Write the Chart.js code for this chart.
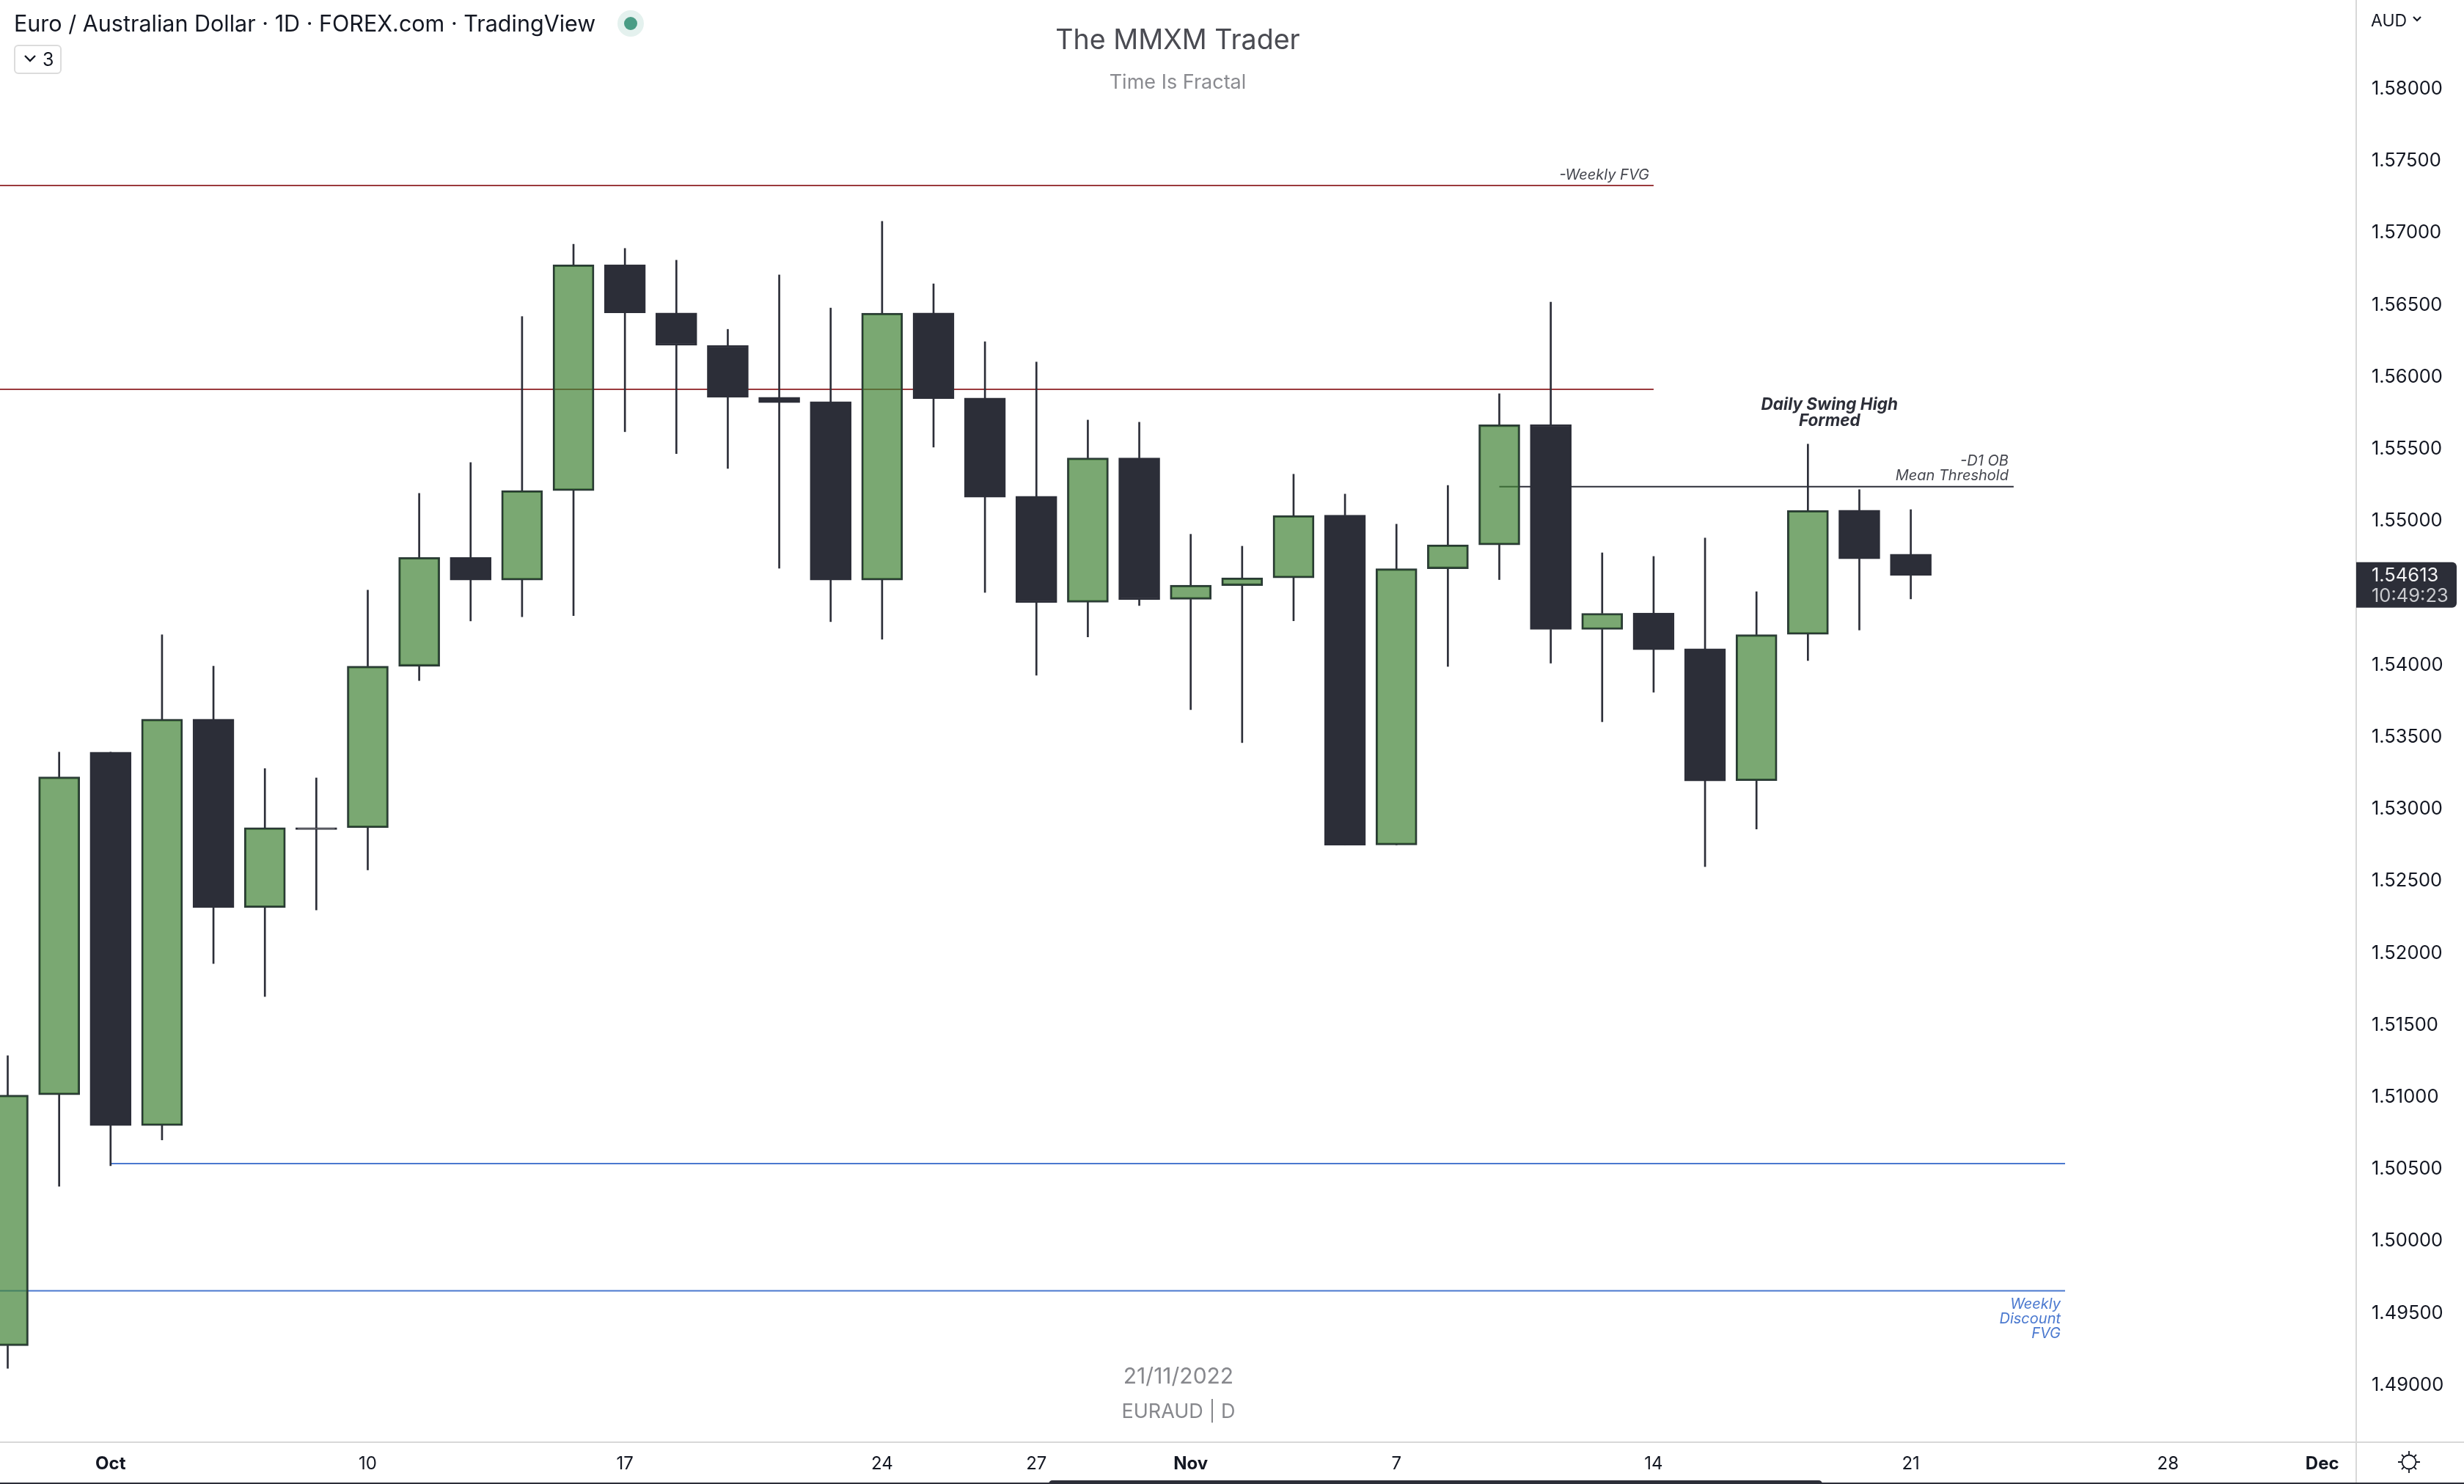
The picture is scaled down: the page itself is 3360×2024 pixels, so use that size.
<!DOCTYPE html>
<html>
<head>
<meta charset="utf-8">
<title>EURAUD 1D</title>
<script src="https://cdn.jsdelivr.net/npm/chart.js@4"></script>
<style>
  html, body { margin: 0; padding: 0; background: #fff; overflow: hidden; }
  body { width: 3360px; height: 2024px; position: relative; font-family: Inter, "Noto Sans", sans-serif; }
  canvas { position: absolute; left: 0; top: 0; }
  .txt { position: absolute; white-space: nowrap; line-height: 1; }
  .center { transform: translateX(-50%); }
  #header { left: 19px; top: 17px; font-size: 30.5px; color: #131722; }
  #dotOuter { position: absolute; left: 842px; top: 14px; width: 36px; height: 36px; border-radius: 50%; background: #e4f1ee; }
  #dotInner { position: absolute; left: 851px; top: 23px; width: 18px; height: 18px; border-radius: 50%; background: #4a9c85; }
  #collapse { position: absolute; left: 19px; top: 61px; width: 61px; height: 36px; border: 2px solid #dcdcdc; border-radius: 6px; }
  #collapseNum { left: 58px; top: 69px; font-size: 25px; color: #131722; }
  #title { left: 1606px; top: 35px; font-size: 37.6px; color: #4a4b52; }
  #subtitle { left: 1606px; top: 98px; font-size: 27px; color: #8a8b90; }
  #stamp { left: 1607px; top: 1861px; font-size: 30px; color: #87888d; }
  #symbol { left: 1607px; top: 1911px; font-size: 27px; color: #87888d; }
  #unit { left: 3233px; top: 17px; font-size: 23px; color: #131722; }
  #bottomLine { position: absolute; left: 0; top: 2022px; width: 3360px; height: 2px; background: #2c2e38; }
  #bottomBar { position: absolute; left: 1430px; top: 2019px; width: 1055px; height: 5px; background: #2c2e38; border-radius: 5px 5px 0 0; }
  svg { position: absolute; }
</style>
</head>
<body>
<canvas id="chart" width="3360" height="2024"></canvas>

<div class="txt" id="header">Euro / Australian Dollar · 1D · FOREX.com · TradingView</div>
<div id="dotOuter"></div>
<div id="dotInner"></div>
<div id="collapse"></div>
<svg style="left:32px;top:74px" width="18" height="12" viewBox="0 0 18 12"><path d="M2 2 L9 9 L16 2" fill="none" stroke="#131722" stroke-width="2.4"/></svg>
<div class="txt" id="collapseNum">3</div>
<div class="txt center" id="title">The MMXM Trader</div>
<div class="txt center" id="subtitle">Time Is Fractal</div>
<div class="txt center" id="stamp">21/11/2022</div>
<div class="txt center" id="symbol">EURAUD | D</div>
<div class="txt" id="unit">AUD</div>
<svg style="left:3289px;top:21px" width="14" height="10" viewBox="0 0 14 10"><path d="M2 2 L7 7 L12 2" fill="none" stroke="#131722" stroke-width="2.2"/></svg>
<svg style="left:3268px;top:1977px" width="34" height="34" viewBox="0 0 34 34">
  <circle cx="17" cy="17" r="9.5" fill="none" stroke="#131722" stroke-width="1.8"/>
  <path d="M17 2 V7.5 M17 26.5 V32 M2 17 H7.5 M26.5 17 H32 M7 7 L10.3 10.3 M27 7 L23.7 10.3 M7 27 L10.3 23.7 M27 27 L23.7 23.7" stroke="#131722" stroke-width="1.8"/>
</svg>
<div id="bottomLine"></div>
<div id="bottomBar"></div>

<script>
const sessions = [
  "Sep 29", "Sep 30", "Oct 3", "Oct 4", "Oct 5", "Oct 6", "Oct 7", "Oct 10",
  "Oct 11", "Oct 12", "Oct 13", "Oct 14", "Oct 17", "Oct 18", "Oct 19", "Oct 20",
  "Oct 21", "Oct 24", "Oct 25", "Oct 26", "Oct 27", "Oct 28", "Oct 31", "Nov 1",
  "Nov 2", "Nov 3", "Nov 4", "Nov 7", "Nov 8", "Nov 9", "Nov 10", "Nov 11",
  "Nov 14", "Nov 15", "Nov 16", "Nov 17", "Nov 18", "Nov 21",
];
const opens = [
  1.49263, 1.51006, 1.53385, 1.50792, 1.53614, 1.52306, 1.52860, 1.52860,
  1.53982, 1.54737, 1.54580, 1.55201, 1.56769, 1.56435, 1.56210, 1.55849,
  1.55819, 1.54580, 1.56435, 1.55844, 1.55162, 1.54426, 1.55428, 1.54446,
  1.54542, 1.54595, 1.55031, 1.52741, 1.54659, 1.54824, 1.55660, 1.54237,
  1.54351, 1.54103, 1.53187, 1.54203, 1.55065, 1.54760,
];
const highs = [
  1.51277, 1.53385, 1.53385, 1.54200, 1.53982, 1.53271, 1.53206, 1.54510,
  1.55182, 1.55396, 1.56410, 1.56912, 1.56883, 1.56801, 1.56321, 1.56699,
  1.56469, 1.57071, 1.56637, 1.56235, 1.56094, 1.55691, 1.55676, 1.54898,
  1.54815, 1.55315, 1.55177, 1.54968, 1.55237, 1.55874, 1.56510, 1.54769,
  1.54744, 1.54872, 1.54499, 1.55524, 1.55208, 1.55069,
];
const lows = [
  1.49106, 1.50370, 1.50513, 1.50692, 1.51917, 1.51688, 1.52289, 1.52567,
  1.53882, 1.54296, 1.54325, 1.54333, 1.55610, 1.55458, 1.55355, 1.54662,
  1.54291, 1.54169, 1.55503, 1.54494, 1.53919, 1.54185, 1.54403, 1.53680,
  1.53451, 1.54297, 1.52739, 1.52741, 1.53980, 1.54583, 1.54003, 1.53596,
  1.53801, 1.52590, 1.52851, 1.54021, 1.54233, 1.54449,
];
const closes = [
  1.51003, 1.53213, 1.50792, 1.53614, 1.52306, 1.52860, 1.52848, 1.53982,
  1.54737, 1.54580, 1.55201, 1.56769, 1.56435, 1.56210, 1.55849, 1.55812,
  1.54580, 1.56433, 1.55840, 1.55155, 1.54423, 1.55428, 1.54443, 1.54544,
  1.54595, 1.55028, 1.52739, 1.54659, 1.54824, 1.55658, 1.54237, 1.54349,
  1.54096, 1.53185, 1.54201, 1.55063, 1.54728, 1.54613,
];

const priceTicks = [
  1.58, 1.575, 1.57, 1.565, 1.56, 1.555, 1.55, 1.545, 1.54, 1.535,
  1.53, 1.525, 1.52, 1.515, 1.51, 1.505, 1.5, 1.495, 1.49,
];
// 28 and Dec are future sessions, past the last candle
const tickSessions = [2, 7, 12, 17, 20, 23, 27, 32, 37, 42, 45];
const tickLabels = ["Oct", "10", "17", "24", "27", "Nov", "7", "14", "21", "28", "Dec"];
const boldTicks = ["Oct", "Nov", "Dec"];

const levelNames = ["Weekly FVG", "Swing level", "D1 OB", "Discount high", "Discount low"];
const levelPrices = [1.5732, 1.55905, 1.55229, 1.50528, 1.49645];
const levelStarts = [-1, -1, 29, 2, -1];
const levelEnds = [32, 32, 39, 40, 40];
const levelColors = ["#9b3a3d", "#9b3a3d", "#2c2e38", "#4a78cf", "#4a78cf"];

const lastTime = "10:49:23";

const INK = "#2c2e38";
const GREEN = "rgba(66, 131, 54, 0.7)";
const GREEN_EDGE = "#2a3a35";
const AXIS_LINE = "#d8d8d8";
const FONT = "Inter";

// small text notes next to the drawn levels
const notes = [
  { lines: ["-Weekly FVG"], x: 32, price: 1.5732, align: "right", dx: -6, dy: -14, gap: 0, color: "#44464e", font: "italic 20px " + FONT },
  { lines: ["-D1 OB", "Mean Threshold"], x: 39, price: 1.55229, align: "right", dx: -7, dy: -35, gap: 20, color: "#44464e", font: "italic 20px " + FONT },
  { lines: ["Daily Swing High", "Formed"], x: 35.42, price: 1.55229, align: "center", dx: 0, dy: -111, gap: 22, color: INK, font: "italic bold 22.5px " + FONT },
  { lines: ["Weekly", "Discount", "FVG"], x: 40, price: 1.49645, align: "right", dx: -6, dy: 19, gap: 20, color: "#4a78cf", font: "italic 20px " + FONT },
];

const bodyTop = (i) => Math.max(opens[i], closes[i]);
const bodyBottom = (i) => Math.min(opens[i], closes[i]);
const isUp = (i) => closes[i] >= opens[i];

const levelDatasets = levelNames.map((name, k) => ({
  type: "line",
  label: name,
  data: [
    { x: levelStarts[k], y: levelPrices[k] },
    { x: levelEnds[k], y: levelPrices[k] },
  ],
  borderColor: levelColors[k],
  borderWidth: 2,
  pointRadius: 0,
  order: 3,
}));

const notesPlugin = {
  id: "notes",
  afterDraw(chart) {
    const { ctx, chartArea, scales, width, height } = chart;
    ctx.save();

    // axis lines run on to the window edges
    ctx.strokeStyle = AXIS_LINE;
    ctx.lineWidth = 2;
    ctx.beginPath();
    ctx.moveTo(chartArea.right, chartArea.bottom);
    ctx.lineTo(width, chartArea.bottom);
    ctx.moveTo(chartArea.right, chartArea.bottom);
    ctx.lineTo(chartArea.right, height);
    ctx.stroke();

    ctx.textBaseline = "middle";
    notes.forEach((note) => {
      ctx.font = note.font;
      ctx.fillStyle = note.color;
      ctx.textAlign = note.align;
      const x = scales.x.getPixelForValue(note.x) + note.dx;
      const y = scales.y.getPixelForValue(note.price) + note.dy;
      note.lines.forEach((line, n) => ctx.fillText(line, x, y + n * note.gap));
    });

    // last price badge on the price axis
    const last = closes[closes.length - 1];
    const badgeY = scales.y.getPixelForValue(last) - 18;
    ctx.fillStyle = INK;
    ctx.beginPath();
    ctx.roundRect(chartArea.right, badgeY, 137, 62, [0, 6, 6, 0]);
    ctx.fill();
    ctx.textAlign = "left";
    ctx.font = "25.5px " + FONT;
    ctx.fillStyle = "#f4f4f5";
    ctx.fillText(last.toFixed(5), chartArea.right + 21, badgeY + 19);
    ctx.fillStyle = "#c9cace";
    ctx.fillText(lastTime, chartArea.right + 21, badgeY + 47);
    ctx.restore();
  },
};

new Chart(document.getElementById("chart"), {
  type: "bar",
  data: {
    datasets: [
      {
        label: "Body",
        data: sessions.map((s, i) => ({ x: i, y: [opens[i], closes[i]] })),
        backgroundColor: sessions.map((s, i) => (isUp(i) ? GREEN : INK)),
        borderColor: sessions.map((s, i) => (isUp(i) ? GREEN_EDGE : INK)),
        borderWidth: 2.5,
        borderSkipped: false,
        barThickness: 56,
        grouped: false,
        order: 1,
      },
      {
        label: "Upper wick",
        data: sessions.map((s, i) => ({ x: i, y: [bodyTop(i), highs[i]] })),
        backgroundColor: INK,
        barThickness: 2,
        grouped: false,
        order: 2,
      },
      {
        label: "Lower wick",
        data: sessions.map((s, i) => ({ x: i, y: [lows[i], bodyBottom(i)] })),
        backgroundColor: INK,
        barThickness: 2,
        grouped: false,
        order: 2,
      },
      ...levelDatasets,
    ],
  },
  options: {
    responsive: false,
    devicePixelRatio: 1,
    animation: false,
    layout: { padding: 0, autoPadding: false },
    plugins: {
      legend: { display: false },
      tooltip: { enabled: false },
    },
    scales: {
      x: {
        type: "linear",
        offset: false,
        min: -0.15,
        max: 45.66,
        grid: { display: false, drawTicks: false },
        border: { color: AXIS_LINE, width: 2 },
        afterBuildTicks: (scale) => {
          scale.ticks = tickSessions.map((v) => ({ value: v }));
        },
        // tick labels must not push the plot area in from the window edge
        afterFit: (scale) => {
          scale.height = 57;
          scale.paddingLeft = 0;
          scale.paddingRight = 0;
        },
        ticks: {
          autoSkip: false,
          maxRotation: 0,
          padding: 15,
          color: "#131722",
          font: (c) => ({
            family: FONT,
            size: 24,
            weight: boldTicks.includes(c.tick && c.tick.label) ? "bold" : "normal",
          }),
          callback: (value) => tickLabels[tickSessions.indexOf(value)],
        },
      },
      y: {
        position: "right",
        min: 1.48593,
        max: 1.58608,
        grid: { display: false, drawTicks: false },
        border: { color: AXIS_LINE, width: 2 },
        afterBuildTicks: (scale) => {
          scale.ticks = priceTicks.map((v) => ({ value: v }));
        },
        afterFit: (scale) => {
          scale.width = 147;
          scale.paddingTop = 0;
          scale.paddingBottom = 0;
        },
        ticks: {
          padding: 21,
          labelOffset: 2,
          color: "#131722",
          font: { family: FONT, size: 25.5 },
          callback: (value) => value.toFixed(5),
        },
      },
    },
  },
  plugins: [notesPlugin],
});
</script>
</body>
</html>
